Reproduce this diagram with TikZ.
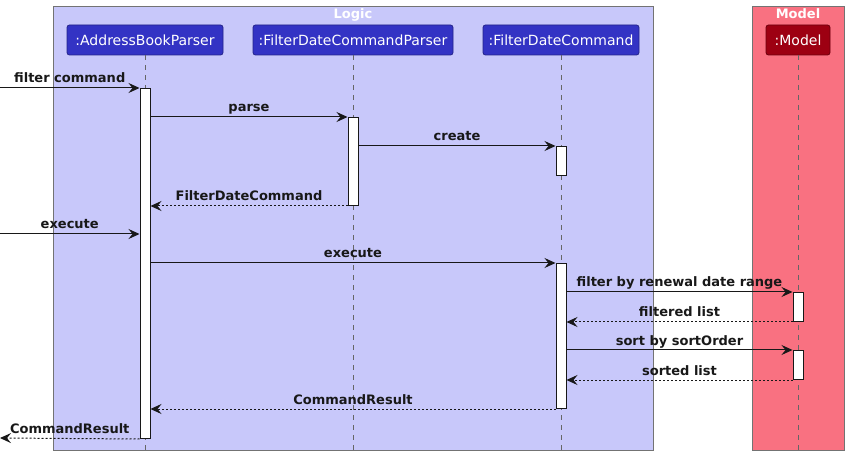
\documentclass[tikz,border=0pt]{standalone}
\usepackage{fontspec}
\setmainfont{DejaVu Sans}
\usetikzlibrary{arrows.meta}
\definecolor{logicT}{HTML}{C8C8FA}
\definecolor{logicC}{HTML}{3333C4}
\definecolor{modelT}{HTML}{F97181}
\definecolor{modelC}{HTML}{9D0012}
\definecolor{ink}{HTML}{181818}
\begin{document}
\begin{tikzpicture}[x=1pt,y=-1pt,
 grp/.style={draw=black!55, line width=0.8pt},
 grptitle/.style={font=\fontsize{13}{15}\selectfont\bfseries, text=white, inner sep=0pt, anchor=base},
 part/.style={rounded corners=2.5pt, line width=0.8pt, text=white, font=\fontsize{14}{16}\selectfont, minimum height=30pt, inner sep=0pt},
 life/.style={draw=black!60, dash pattern=on 5pt off 5pt, line width=0.8pt},
 act/.style={draw=ink, fill=white, line width=1pt, minimum width=10pt, inner sep=0pt, anchor=north},
 msg/.style={draw=ink, line width=1pt, -{Stealth[length=11pt,width=10pt,inset=4pt]}},
 ret/.style={msg, dash pattern=on 2pt off 2pt},
 lbl/.style={font=\fontsize{13}{15}\selectfont\bfseries, text=ink, inner sep=0pt, anchor=base, yshift=5pt}
]
\useasboundingbox (0,0) rectangle (849,462);
% groups
\filldraw[grp, fill=logicT] (53,6) rectangle (653,450);
\filldraw[grp, fill=modelT] (752,6) rectangle (844,450);
\node[grptitle] (tLogic) at (353,19) {Logic};
\node[grptitle] (tModel) at (798,19) {Model};
% participants
\node[part, fill=logicC, draw=logicC!70!black, minimum width=156pt] (pA) at (145,40) {:AddressBookParser};
\node[part, fill=logicC, draw=logicC!70!black, minimum width=200pt] (pP) at (353,40) {:FilterDateCommandParser};
\node[part, fill=logicC, draw=logicC!70!black, minimum width=156pt] (pC) at (561,40) {:FilterDateCommand};
\node[part, fill=modelC, draw=modelC!70!black, minimum width=64pt] (pM) at (798,40) {:Model};
% lifelines
\coordinate (eA) at (145,451);
\coordinate (eP) at (353,451);
\coordinate (eC) at (561,451);
\coordinate (eM) at (798,451);
\draw[life] (pA.south) -- (eA);
\draw[life] (pP.south) -- (eP);
\draw[life] (pC.south) -- (eC);
\draw[life] (pM.south) -- (eM);
% activations
\node[act, minimum height=350pt] (aA) at (145,88) {};
\node[act, minimum height=88pt] (aP) at (353,117) {};
\node[act, minimum height=29pt] (aC1) at (561,146) {};
\node[act, minimum height=145pt] (aC2) at (561,263) {};
\node[act, minimum height=29pt] (aM1) at (798,292) {};
\node[act, minimum height=29pt] (aM2) at (798,350) {};
% free ends
\coordinate (x1) at (0,88);
\coordinate (x2) at (0,234);
\coordinate (x3) at (0,438);
% messages
\draw[msg] (x1) -- (aA.north west) node[lbl, midway] {filter command};
\draw[msg] (aA.east |- aP.north) -- (aP.north west) node[lbl, midway] {parse};
\draw[msg] (aP.east |- aC1.north) -- (aC1.north west) node[lbl, midway] {create};
\draw[ret] (aP.south west) -- (aA.east |- aP.south) node[lbl, midway] {FilterDateCommand};
\draw[msg] (x2) -- (aA.west |- x2) node[lbl, midway] {execute};
\draw[msg] (aA.east |- aC2.north) -- (aC2.north west) node[lbl, midway] {execute};
\draw[msg] (aC2.east |- aM1.north) -- (aM1.north west) node[lbl, midway] {filter by renewal date range};
\draw[ret] (aM1.south west) -- (aC2.east |- aM1.south) node[lbl, midway] {filtered list};
\draw[msg] (aC2.east |- aM2.north) -- (aM2.north west) node[lbl, midway] {sort by sortOrder};
\draw[ret] (aM2.south west) -- (aC2.east |- aM2.south) node[lbl, midway] {sorted list};
\draw[ret] (aC2.south west) -- (aA.east |- aC2.south) node[lbl, midway] {CommandResult};
\draw[ret] (aA.south west) -- (x3) node[lbl, midway] {CommandResult};
\end{tikzpicture}
\end{document}
